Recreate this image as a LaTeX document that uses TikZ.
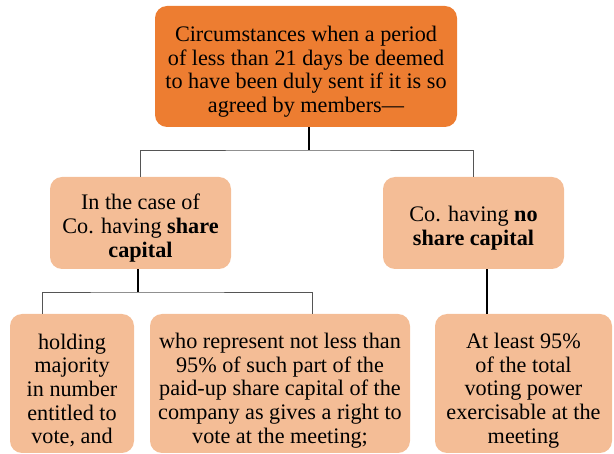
\documentclass[tikz,border=0pt]{standalone}
\usepackage{fontspec}
\setmainfont{Liberation Serif}
\definecolor{deep}{HTML}{ED7D31}
\definecolor{soft}{HTML}{F4BD96}
\definecolor{rule}{HTML}{555555}
\newcommand{\boxfont}{\fontsize{22.2}{23.7}\selectfont\lineskiplimit=-30pt\relax}
% extra room above the first line, so the text sits a little low in its box
\newcommand{\topgap}[1]{\rule{0pt}{#1}}
\begin{document}
\begin{tikzpicture}[x=1pt,y=-1pt,
  box/.style={rounded corners=12pt, inner sep=0pt, align=center, font=\boxfont},
  headbox/.style={box, fill=deep},
  subbox/.style={box, fill=soft},
  heavy/.style={draw=black, line width=1.8pt},
  light/.style={draw=rule, line width=0.9pt}]
\useasboundingbox (0,0) rectangle (614,454);
\clip (0,0) rectangle (614,454);

% heading
\node[headbox, minimum width=302pt, minimum height=121pt] (top) at (306,66.5)
  {\topgap{25.5pt}Circumstances when a period\\of less than 21 days be deemed\\to have been duly sent if it is so\\agreed by members—};

% second level
\node[subbox, minimum width=181pt, minimum height=92pt] (mL) at (140.5,223)
  {\topgap{25.5pt}In the case of\\Co. having \textbf{share}\\\textbf{capital}};
\node[subbox, minimum width=181pt, minimum height=92pt] (mR) at (473.5,223)
  {\topgap{25.5pt}Co. having \textbf{no}\\\textbf{share capital}};

% third level
\node[subbox, minimum width=124pt, minimum height=139pt] (b1) at (72,383.5)
  {\topgap{29.5pt}holding\\majority\\in number\\entitled to\\vote, and};
\node[subbox, minimum width=260pt, minimum height=139pt] (b2) at (280,383.5)
  {\topgap{29.5pt}who represent not less than\\95\% of such part of the\\paid-up share capital of the\\company as gives a right to\\vote at the meeting;};
\node[subbox, minimum width=177pt, minimum height=139pt] (b3) at (523.5,383.5)
  {\topgap{29.5pt}At least 95\%\\of the total\\voting power\\exercisable at the\\meeting};

% junction points
\coordinate (j1) at (309,150);
\coordinate (j2) at (138,292);
\coordinate (d1) at (42,314);
\coordinate (d2) at (312,314);
\coordinate (d3) at (487,314);

% connectors
\draw[heavy] (top.south -| j1) -- (j1);
\draw[light] (mL.north) |- (j1) -| (mR.north);
\draw[heavy] (mL.south -| j2) -- (j2);
\draw[light] (d1) |- (j2) -| (d2);
\draw[heavy] (mR.south -| d3) -- (d3);
\end{tikzpicture}
\end{document}
